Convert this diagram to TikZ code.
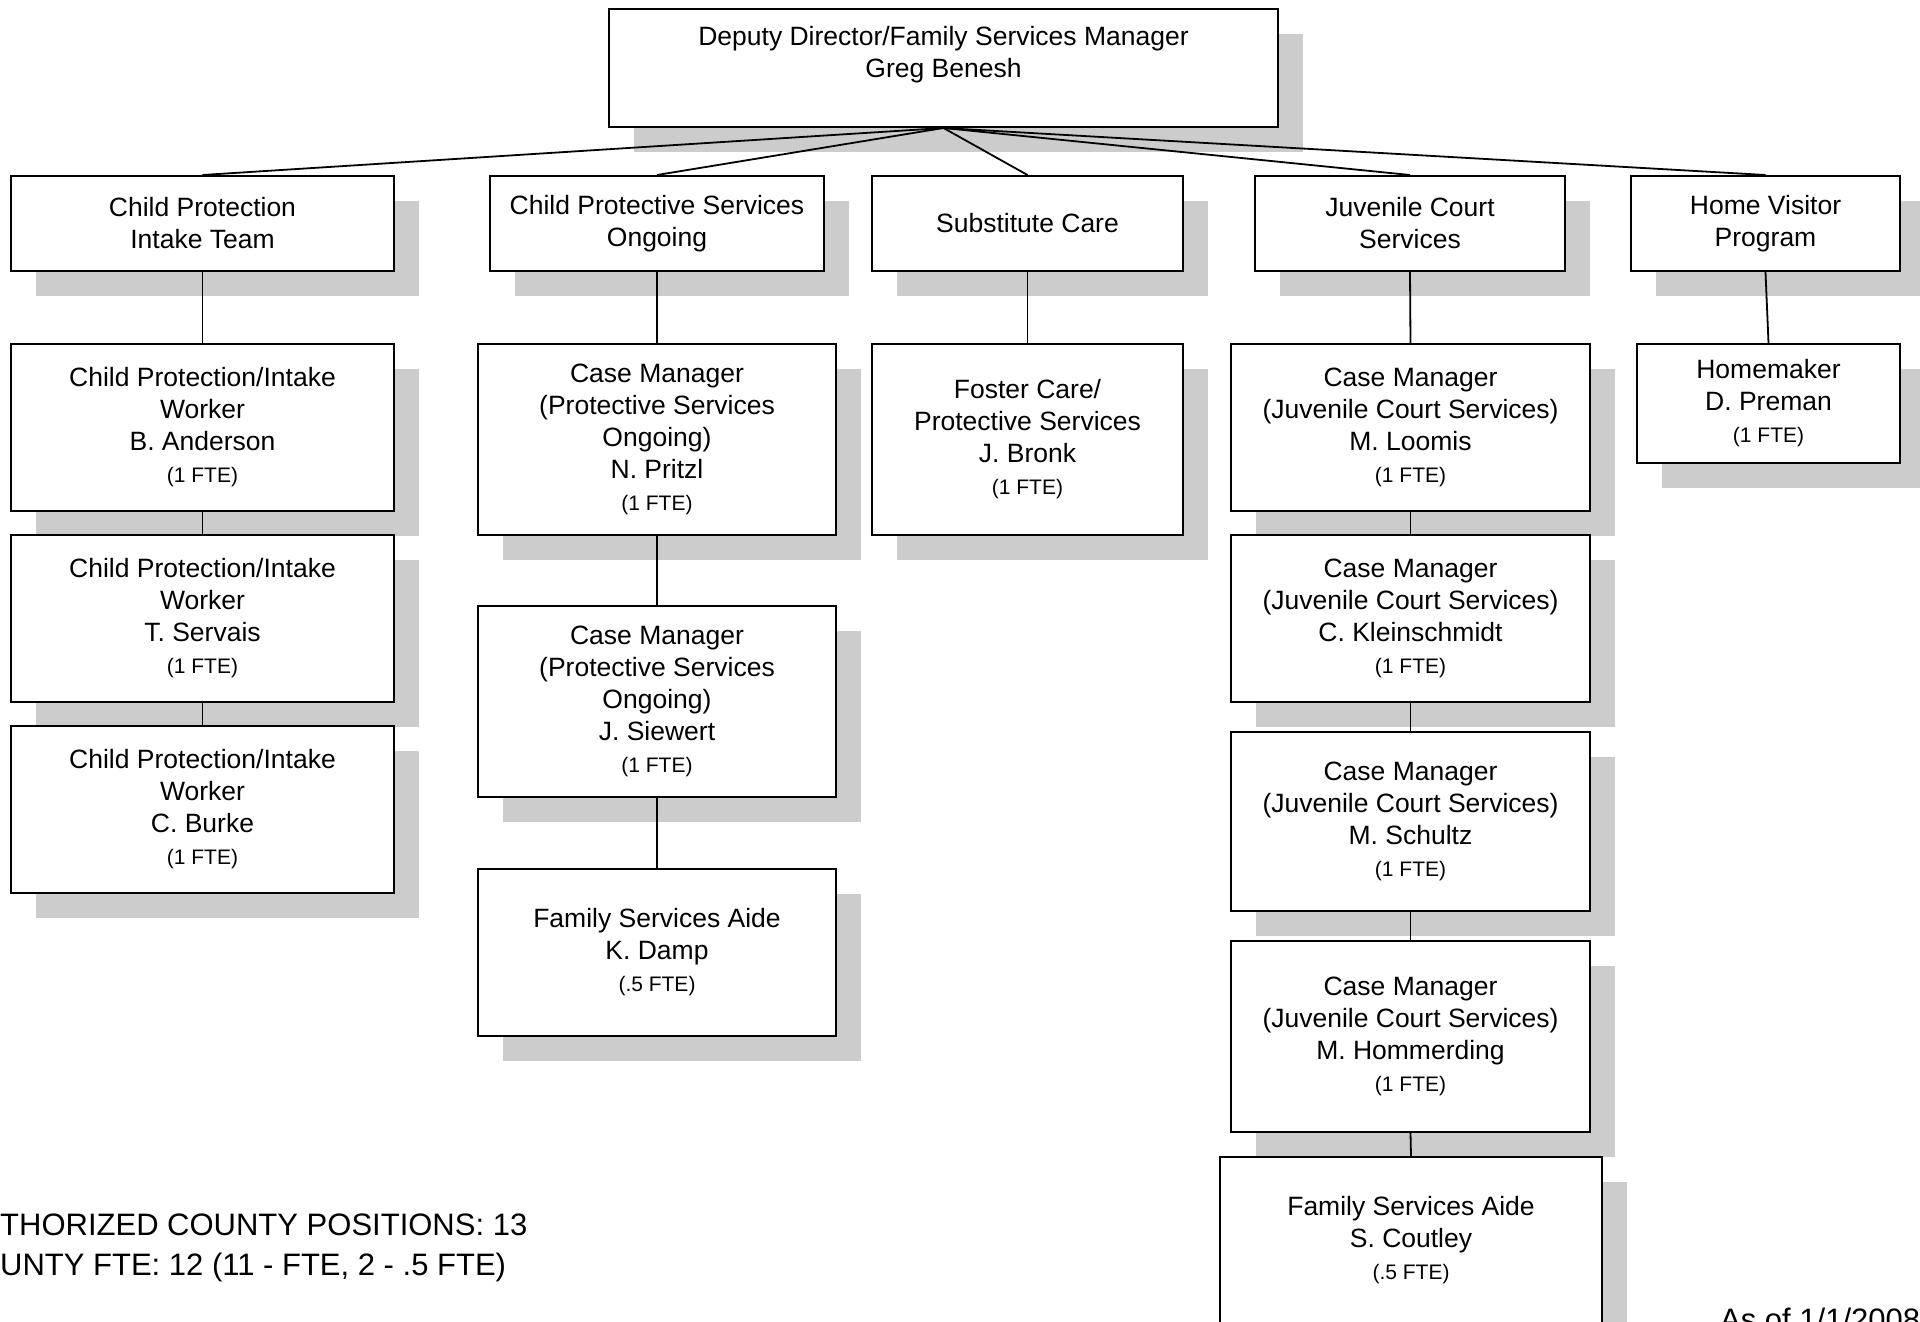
\documentclass[tikz,border=0pt]{standalone}
\usepackage{fontspec}
\setmainfont{Liberation Sans}
\usetikzlibrary{shadows}

\definecolor{shadowgray}{RGB}{204,204,204}
\newcommand{\fte}[1]{{\fontsize{21}{24}\selectfont(#1 FTE)}}

\begin{document}
\begin{tikzpicture}[x=1pt,y=-1pt,
  box/.style={draw,line width=2pt,fill=white,inner sep=0pt,align=center,
    font=\fontsize{26.5}{32}\selectfont,
    drop shadow={shadow xshift=25pt,shadow yshift=-25pt,fill=shadowgray,opacity=1}},
  link/.style={line width=1.8pt},
  note/.style={inner sep=0pt,font=\fontsize{31}{39}\selectfont}]

  % Page
  \path[use as bounding box,fill=white] (0,0) rectangle (1920,1322);

  % Manager
  \node[box,minimum width=669pt,minimum height=118pt] (top) at (943.5,68)
    {Deputy Director/Family Services Manager\\Greg Benesh\\\mbox{}};

  % Teams
  \node[box,minimum width=383pt,minimum height=95pt] (cpi) at (202.5,223.5) {Child Protection\\Intake Team};
  \node[box,minimum width=334pt,minimum height=95pt] (cps) at (657,223.5) {Child Protective Services\\Ongoing};
  \node[box,minimum width=311pt,minimum height=95pt] (sub) at (1027.5,223.5) {Substitute Care};
  \node[box,minimum width=310pt,minimum height=95pt] (jcs) at (1410,223.5) {Juvenile Court\\Services};
  \node[box,minimum width=269pt,minimum height=95pt] (hvp) at (1765.5,223.5) {Home Visitor\\Program};

  % Child protection intake workers
  \node[box,minimum width=383pt,minimum height=167pt] (anderson) at (202.5,427.5)
    {Child Protection/Intake\\Worker\\B. Anderson\\\fte{1}};
  \node[box,minimum width=383pt,minimum height=167pt] (servais) at (202.5,618.5)
    {Child Protection/Intake\\Worker\\T. Servais\\\fte{1}};
  \node[box,minimum width=383pt,minimum height=167pt] (burke) at (202.5,809.5)
    {Child Protection/Intake\\Worker\\C. Burke\\\fte{1}};

  % Protective services ongoing
  \node[box,minimum width=358pt,minimum height=191pt] (pritzl) at (657,439.5)
    {Case Manager\\(Protective Services\\Ongoing)\\N. Pritzl\\\fte{1}};
  \node[box,minimum width=358pt,minimum height=191pt] (siewert) at (657,701.5)
    {Case Manager\\(Protective Services\\Ongoing)\\J. Siewert\\\fte{1}};
  \node[box,minimum width=358pt,minimum height=167pt] (damp) at (657,952.5)
    {Family Services Aide\\K. Damp\\\fte{.5}};

  % Substitute care
  \node[box,minimum width=311pt,minimum height=191pt] (bronk) at (1027.5,439.5)
    {Foster Care/\\Protective Services\\J. Bronk\\\fte{1}};

  % Juvenile court services
  \node[box,minimum width=359pt,minimum height=167pt] (loomis) at (1410.5,427.5)
    {Case Manager\\(Juvenile Court Services)\\M. Loomis\\\fte{1}};
  \node[box,minimum width=359pt,minimum height=167pt] (kleinschmidt) at (1410.5,618.5)
    {Case Manager\\(Juvenile Court Services)\\C. Kleinschmidt\\\fte{1}};
  \node[box,minimum width=359pt,minimum height=179pt] (schultz) at (1410.5,821.5)
    {Case Manager\\(Juvenile Court Services)\\M. Schultz\\\fte{1}};
  \node[box,minimum width=359pt,minimum height=191pt] (hommerding) at (1410.5,1036.5)
    {Case Manager\\(Juvenile Court Services)\\M. Hommerding\\\fte{1}};
  \node[box,minimum width=382pt,minimum height=167pt] (coutley) at (1411,1240.5)
    {Family Services Aide\\S. Coutley\\\fte{.5}};

  % Home visitor
  \node[box,minimum width=263pt,minimum height=119pt] (preman) at (1768.5,403.5)
    {Homemaker\\D. Preman\\\fte{1}};

  % Lines from the manager
  \draw[link] (top.south) -- (cpi.north);
  \draw[link] (top.south) -- (cps.north);
  \draw[link] (top.south) -- (sub.north);
  \draw[link] (top.south) -- (jcs.north);
  \draw[link] (top.south) -- (hvp.north);

  % Lines down each column
  \draw[link] (cpi.south) -- (anderson.north);
  \draw[link] (anderson.south) -- (servais.north);
  \draw[link] (servais.south) -- (burke.north);
  \draw[link] (cps.south) -- (pritzl.north);
  \draw[link] (pritzl.south) -- (siewert.north);
  \draw[link] (siewert.south) -- (damp.north);
  \draw[link] (sub.south) -- (bronk.north);
  \draw[link] (jcs.south) -- (loomis.north);
  \draw[link] (loomis.south) -- (kleinschmidt.north);
  \draw[link] (kleinschmidt.south) -- (schultz.north);
  \draw[link] (schultz.south) -- (hommerding.north);
  \draw[link] (hommerding.south) -- (coutley.north);
  \draw[link] (hvp.south) -- (preman.north);

  % Totals and date
  \node[note,anchor=base west] (positions) at (0,1235.5) {THORIZED COUNTY POSITIONS: 13};
  \node[note,anchor=base west] (countyfte) at (0,1275) {UNTY FTE: 12 (11 - FTE, 2 - .5 FTE)};
  \node[note,anchor=base west] (asof) at (1720,1330) {As of 1/1/2008};

\end{tikzpicture}
\end{document}
